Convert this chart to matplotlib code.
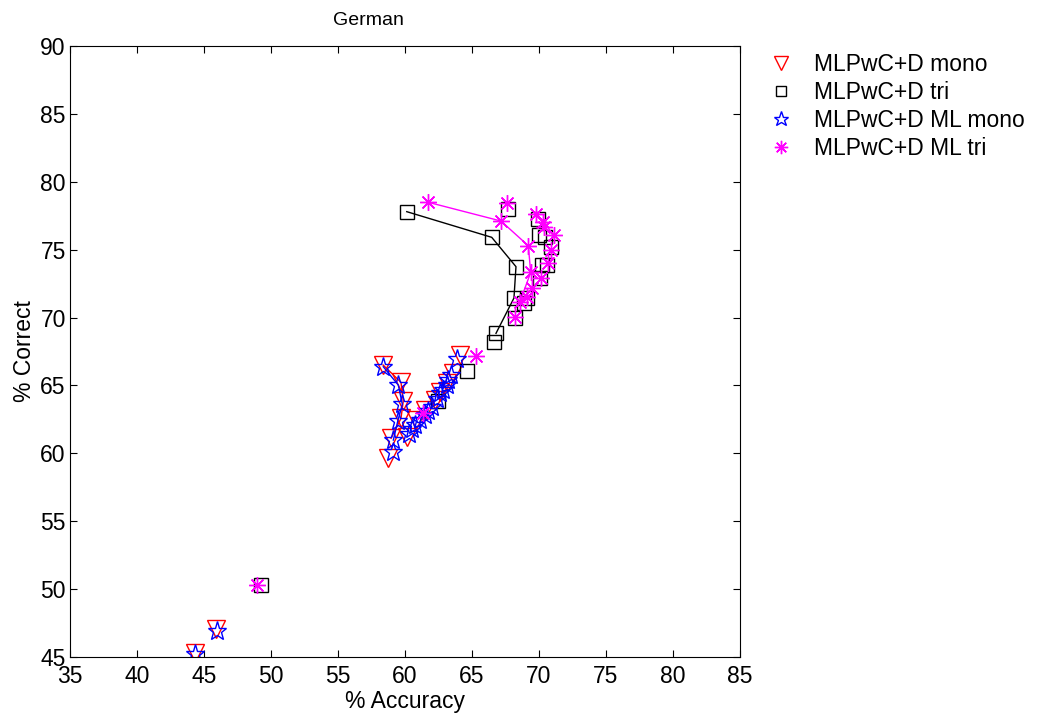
import matplotlib
matplotlib.use("Agg")
import matplotlib.pyplot as plt
from matplotlib.lines import Line2D

plt.rcParams["font.family"] = ["Liberation Sans", "DejaVu Sans"]

# --- data: (accuracy, correct) ---
# MLPwC+D mono : connected part, then the rest
mono_line_x = [58.36, 59.70, 59.87, 59.70, 58.96]
mono_line_y = [66.51, 65.23, 63.85, 62.58, 61.11]
mono_pts_x = [58.71, 64.10, 63.60, 63.11, 62.61, 62.24, 61.49, 60.82, 60.13, 45.90, 44.33]
mono_pts_y = [59.63, 67.24, 65.94, 65.18, 64.52, 63.93, 63.19, 62.46, 61.23, 47.04, 45.27]

# MLPwC+D tri
tri_line_x = [60.13, 66.47, 68.28, 68.13, 66.79]
tri_line_y = [77.80, 75.91, 73.75, 71.44, 68.84]
tri_pts_x = [67.66, 69.95, 70.00, 70.45, 70.90, 70.20, 70.57, 70.07, 69.08, 68.90,
             68.21, 66.67, 64.60, 62.44, 49.23]
tri_pts_y = [77.97, 77.26, 76.08, 75.96, 75.22, 73.87, 73.87, 72.89, 71.42, 71.05,
             69.95, 68.18, 66.06, 63.85, 50.30]

# MLPwC+D ML mono
mlmono_line_x = [58.38, 59.50, 59.80, 59.46, 59.13]
mlmono_line_y = [66.38, 65.03, 63.61, 62.38, 60.98]
mlmono_pts_x = [59.13, 63.90, 63.41, 63.23, 63.11, 62.86, 62.61, 62.37, 61.99, 61.74,
                61.49, 61.12, 60.75, 60.50, 60.32, 45.95, 44.35]
mlmono_pts_y = [60.08, 66.93, 65.77, 65.40, 65.03, 64.67, 64.47, 63.98, 63.44, 63.14,
                62.82, 62.46, 62.09, 61.77, 61.40, 46.95, 45.20]

# MLPwC+D ML tri
mltri_line_x = [61.74, 67.16, 69.20, 69.38, 68.58, 69.50]
mltri_line_y = [78.49, 77.11, 75.29, 73.33, 71.17, 72.16]
mltri_pts_x = [67.58, 69.75, 70.32, 70.40, 71.14, 70.90, 70.69, 70.15, 69.08, 68.21,
               65.30, 61.37, 48.98]
mltri_pts_y = [78.42, 77.60, 77.06, 76.69, 76.08, 74.98, 74.00, 72.89, 71.54, 70.07,
               67.17, 63.00, 50.30]

labels = ["MLPwC+D mono", "MLPwC+D tri", "MLPwC+D ML mono", "MLPwC+D ML tri"]

asterisk = (8, 2, 0)
styles = [
    dict(color="red", marker="v", ms=13),
    dict(color="black", marker="s", ms=9.5),
    dict(color="blue", marker="*", ms=14),
    dict(color="magenta", marker=asterisk, ms=12),
]
series = [
    (mono_line_x, mono_line_y, mono_pts_x, mono_pts_y),
    (tri_line_x, tri_line_y, tri_pts_x, tri_pts_y),
    (mlmono_line_x, mlmono_line_y, mlmono_pts_x, mlmono_pts_y),
    (mltri_line_x, mltri_line_y, mltri_pts_x, mltri_pts_y),
]

FS = 16.5

fig = plt.figure(figsize=(10.46, 7.19), dpi=100)
ax = fig.add_axes([0.0669, 0.0862, 0.6406, 0.8498])

for (lx, ly, px, py), st in zip(series, styles):
    ax.plot(lx, ly, "-", color=st["color"], lw=1.0)
    ax.plot(lx + px, ly + py, linestyle="none", marker=st["marker"], ms=st["ms"],
            mfc="none", mec=st["color"], mew=1.0)

ax.set_xlim(35, 85)
ax.set_ylim(45, 90)
ax.set_xticks(range(35, 86, 5))
ax.set_yticks(range(45, 91, 5))
ax.tick_params(direction="in", top=True, right=True, labelsize=FS, length=5)
ax.tick_params(axis="x", pad=6)
ax.tick_params(axis="y", pad=3)
ax.set_xlabel("% Accuracy", fontsize=FS, labelpad=1)
ax.set_ylabel("% Correct", fontsize=FS, labelpad=3)
ax.set_title("German", fontsize=14, pad=15, x=0.445)

handles = [Line2D([], [], linestyle="none", marker=st["marker"], ms=st["ms"] * 0.8,
                  mfc="none", mec=st["color"], mew=1.0) for st in styles]
fig.legend(handles, labels, loc="upper left", bbox_to_anchor=(0.712, 0.955),
           frameon=False, fontsize=FS, handlelength=1.4, handletextpad=0.7,
           labelspacing=0.22)

fig.savefig("out.png", dpi=100)
